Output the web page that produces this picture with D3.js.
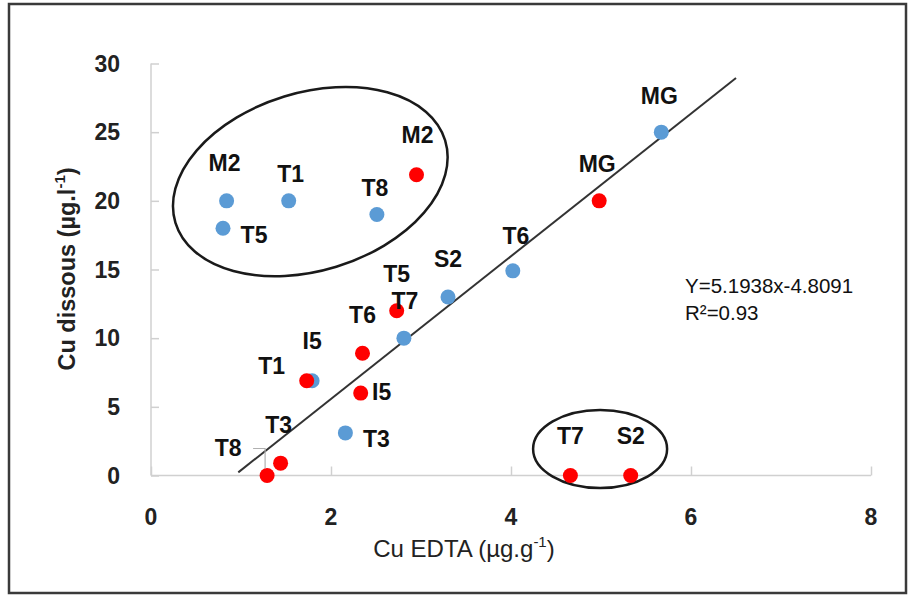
<!DOCTYPE html>
<html>
<head>
<meta charset="utf-8">
<script src="https://cdn.jsdelivr.net/npm/d3@7"></script>
<style>
  html, body { margin: 0; padding: 0; background: #fff; }
  svg { display: block; font-family: "Liberation Sans", Arial, sans-serif; }
</style>
</head>
<body>
<svg id="chart" width="909" height="596"></svg>
<script>
// ---------- data ----------
const blueNames = ["M2", "T5", "T1", "T8", "MG", "T6", "S2", "T7", "I5", "T3"];
const blueX     = [0.84, 0.80, 1.53, 2.51, 5.67, 4.02, 3.30, 2.81, 1.79, 2.16];
const blueY     = [20,   18,   20,   19,   25,   14.9, 13,   10,   6.9,  3.1];

const redNames  = ["M2", "MG", "T5", "T6", "T1", "I5", "T3", "T8", "T7", "S2"];
const redX      = [2.95, 4.98, 2.73, 2.35, 1.73, 2.33, 1.44, 1.29, 4.66, 5.33];
const redY      = [21.9, 20,   12,   8.9,  6.9,  6.0,  0.9,  0,    0,    0];

// label offsets (px) from each point: [dx, dy] to label centre/baseline
const blueLabelOffsets = [[-2,-30],[31,15],[2,-19],[-2,-19],[-2,-28],[3,-27],[0,-30],[1,-29],[0,-32],[31,14]];
const redLabelOffsets  = [[1,-32],[-2,-29],[0,-29],[0,-30],[-35,-7],[21,7],[-2,-30],[-39,-20],[0,-32],[0,-32]];

const xTicks = [0, 2, 4, 6, 8];
const yTicks = [0, 5, 10, 15, 20, 25, 30];

const slope = 5.1938, intercept = -4.8091;
const trendRange = [0.97, 6.5];
const eqText = "Y=5.1938x-4.8091";
const r2Text = "R²=0.93";

// group ellipses: centre in data units
const groups = [
  { cx: 1.77, cy: 21.4, rx: 141, ry: 89, rot: -17 },
  { cx: 4.99, cy: 1.93, rx: 67, ry: 39, rot: 0 }
];

// ---------- drawing ----------
const svg = d3.select("#chart");
const x = d3.scaleLinear().domain([0, 8]).range([151, 871]);
const y = d3.scaleLinear().domain([0, 30]).range([475.5, 63.5]);

// outer frame
svg.append("rect").attr("x", 9).attr("y", 4).attr("width", 897).attr("height", 589)
  .attr("fill", "none").attr("stroke", "#3a3a3a").attr("stroke-width", 2.5);

const axisColor = "#d0d0d0";

// y axis
const gy = svg.append("g").attr("transform", `translate(${x(0)},0)`)
  .call(d3.axisRight(y).tickValues(yTicks).tickSize(8).tickFormat(""));
gy.selectAll("path, line").attr("stroke", axisColor).attr("stroke-width", 1.5);
gy.select("path").attr("d", `M0,${y(30)}V${y(0)}`);

// x axis
const gx = svg.append("g").attr("transform", `translate(0,${y(0)})`)
  .call(d3.axisTop(x).tickValues(xTicks).tickSize(9).tickFormat(""));
gx.selectAll("path, line").attr("stroke", axisColor).attr("stroke-width", 1.5);
gx.select("path").attr("d", `M${x(0)},0H${x(8)}`);

// tick labels
svg.append("g").selectAll("text").data(yTicks).join("text")
  .attr("x", 120).attr("y", d => y(d)).attr("dy", "0.36em")
  .attr("text-anchor", "end").attr("font-size", 23).attr("font-weight", "bold")
  .attr("fill", "#222").text(d => d);
svg.append("g").selectAll("text").data(xTicks).join("text")
  .attr("x", d => x(d)).attr("y", 525)
  .attr("text-anchor", "middle").attr("font-size", 23).attr("font-weight", "bold")
  .attr("fill", "#222").text(d => d);

// axis titles
const xt = svg.append("text").attr("x", 464).attr("y", 557).attr("text-anchor", "middle")
  .attr("font-size", 24).attr("fill", "#222");
xt.append("tspan").text("Cu EDTA (µg.g");
xt.append("tspan").attr("font-size", 15).attr("dy", -10).text("-1");
xt.append("tspan").attr("dy", 10).text(")");

const yt = svg.append("text").attr("transform", "translate(75,269) rotate(-90)")
  .attr("text-anchor", "middle").attr("font-size", 23.5).attr("font-weight", "bold").attr("fill", "#222");
yt.append("tspan").text("Cu dissous (µg.l");
yt.append("tspan").attr("font-size", 15).attr("dy", -10).text("-1");
yt.append("tspan").attr("dy", 10).text(")");

// ellipses
svg.append("g").selectAll("ellipse").data(groups).join("ellipse")
  .attr("cx", 0).attr("cy", 0).attr("rx", d => d.rx).attr("ry", d => d.ry)
  .attr("transform", d => `translate(${x(d.cx)},${y(d.cy)}) rotate(${d.rot})`)
  .attr("fill", "none").attr("stroke", "#1a1a1a").attr("stroke-width", 2.5);

// trend line
svg.append("line")
  .attr("x1", x(trendRange[0])).attr("y1", y(slope * trendRange[0] + intercept))
  .attr("x2", x(trendRange[1])).attr("y2", y(slope * trendRange[1] + intercept))
  .attr("stroke", "#333").attr("stroke-width", 2);

// points
const blue = blueNames.map((n, i) => ({ n, x: blueX[i], y: blueY[i], off: blueLabelOffsets[i] }));
const red  = redNames.map((n, i) => ({ n, x: redX[i], y: redY[i], off: redLabelOffsets[i] }));

svg.append("g").selectAll("circle").data(blue).join("circle")
  .attr("cx", d => x(d.x)).attr("cy", d => y(d.y)).attr("r", 7.5).attr("fill", "#5B9BD5");
svg.append("g").selectAll("circle").data(red).join("circle")
  .attr("cx", d => x(d.x)).attr("cy", d => y(d.y)).attr("r", 7.5).attr("fill", "#FF0000");

// leader line for red T8
const t8 = red.find(d => d.n === "T8");
svg.append("path")
  .attr("d", `M${x(t8.x) - 14},${y(t8.y) - 27}H${x(t8.x) - 2}V${y(t8.y) - 7}`)
  .attr("fill", "none").attr("stroke", "#b0b0b0").attr("stroke-width", 1.2);

// labels
const allLabels = blue.concat(red);
svg.append("g").selectAll("text").data(allLabels).join("text")
  .attr("x", d => x(d.x) + d.off[0]).attr("y", d => y(d.y) + d.off[1])
  .attr("text-anchor", "middle").attr("font-size", 23).attr("font-weight", "bold")
  .attr("fill", "#111").text(d => d.n);

// equation
svg.append("text").attr("x", 685).attr("y", 293).attr("font-size", 20.5).attr("fill", "#111").text(eqText);
svg.append("text").attr("x", 685).attr("y", 320).attr("font-size", 20.5).attr("fill", "#111").text(r2Text);
</script>
</body>
</html>
